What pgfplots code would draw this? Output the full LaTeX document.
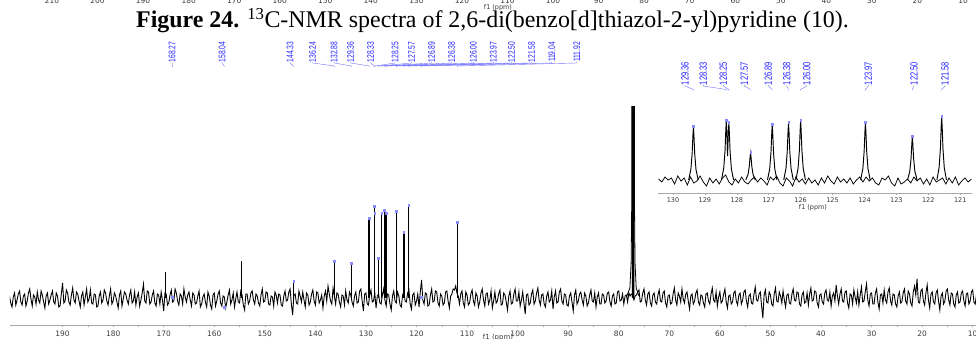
\documentclass[border=0pt]{standalone}
\usepackage{pgfplots}
\pgfplotsset{compat=1.18}
\usepackage{fontspec}
\setmainfont{Liberation Serif}
\newfontfamily\dvfont{DejaVu Sans}
\newfontfamily\labfont{Liberation Sans}
\definecolor{lblue}{HTML}{2020FF}
\definecolor{cblue}{HTML}{7070FF}
\definecolor{mblue}{HTML}{8C8CFF}
\definecolor{tickc}{HTML}{3A3A3A}
\definecolor{axc}{HTML}{A8A8A8}
\newcommand\mlab[3]{%
 \node[rotate=90, text=lblue, inner sep=0pt] at (#1bp,287bp) {\scalebox{0.7}[1]{\labfont\fontsize{9.6}{9.6}\selectfont #3}};
 \draw[cblue, line width=0.4pt] (#1bp,277bp) -- (#1bp,276bp) -- (#2bp,273bp) -- (#2bp,272bp);}
\newcommand\ilab[3]{%
 \node[rotate=90, text=lblue, inner sep=0pt] at (#1bp,265.5bp) {\scalebox{0.72}[1]{\labfont\fontsize{10.5}{10.5}\selectfont #3}};
 \draw[cblue, line width=0.4pt] (#1bp,254bp) -- (#1bp,253bp) -- (#2bp,249.5bp) -- (#2bp,248.5bp);}
\pgfplotsset{pk/.style={black, line width=0.95pt}}
\begin{document}
\begin{tikzpicture}
\begin{scope}
\clip (0,0) rectangle (976bp,339bp);
% main spectrum
\begin{axis}[scale only axis, width=972.8bp, height=218bp, at={(10bp,14bp)}, anchor=south west,
  x dir=reverse, xmin=8, xmax=200.4, ymin=-27, ymax=191,
  axis x line*=bottom, axis y line=none, ytick=\empty,
  xtick={10,20,...,190}, minor x tick num=1, tick align=outside,
  major tick length=2bp, minor tick length=1.5bp,
  tick style={axc, line width=0.5pt}, axis line style={axc, line width=0.7pt},
  /pgf/number format/assume math mode=true,
  xticklabel style={font=\dvfont\fontsize{7.5}{8}\selectfont, text=tickc},
  clip=true]
\addplot[black, line width=0.9pt] coordinates {
(202.5,3)(202.25,-3)(202,-6)(201.75,4)(201.5,8)(201.25,-2)(201,-4)(200.75,6)(200.5,2)(200.25,-5)(200,-9)(199.75,1)(199.5,5)(199.25,-7)(199,-2)(198.75,4)(198.5,7)(198.25,-4)(198,-7)(197.75,2)
(197.5,4)(197.25,-8)(197,-3)(196.75,5)(196.5,9)(196.25,-1)(196,-8)(195.75,3)(195.5,1)(195.25,-6)(195,6)(194.75,-2)(194.5,-5)(194.25,7)(194,3)(193.75,-4)(193.5,-10)(193.25,2)(193,5)(192.75,-6)
(192.5,-2)(192.25,3)(192,7)(191.75,-4)(191.5,-6)(191.25,5)(191,2)(190.75,-9)(190.5,-8)(190.25,4)(190,15)(189.75,-5)(189.5,-3)(189.25,8)(189,5)(188.75,-4)(188.5,-7)(188.25,3)(188,10)(187.75,-2)
(187.5,-5)(187.25,6)(187,4)(186.75,-3)(186.5,-9)(186.25,2)(186,6)(185.75,-7)(185.5,1)(185.25,9)(185,-4)(184.75,-1)(184.5,8)(184.25,-5)(184,-6)(183.75,4)(183.5,3)(183.25,-9)(183,-8)(182.75,2)
(182.5,6)(182.25,-5)(182,-2)(181.75,8)(181.5,5)(181.25,-3)(181,-7)(180.75,2)(180.5,9)(180.25,-6)(180,-3)(179.75,5)(179.5,2)(179.25,-4)(179,-10)(178.75,3)(178.5,7)(178.25,-8)(178,-1)(177.75,6)
(177.5,4)(177.25,-2)(177,-6)(176.75,3)(176.5,8)(176.25,-5)(176,-3)(175.75,6)(175.5,-7)(175.25,1)(175,5)(174.75,-8)(174.5,-2)(174.25,5)(174,14)(173.75,-3)(173.5,-5)(173.25,7)(173,6)(172.75,-6)
(172.5,-4)(172.25,3)(172,7)(171.75,-5)(171.5,-8)(171.25,4)(171,3)(170.75,-6)(170.5,6)(170.25,-2)(170,-13)(169.75,5)(169.5,4)(169.25,-7)(169,-5)(168.75,3)(168.5,8)(168.25,-4)(168,-3)(167.75,9)
(167.5,5)(167.25,-3)(167,-7)(166.75,4)(166.5,2)(166.25,-6)(166,9)(165.75,1)(165.5,-4)(165.25,3)(165,6)(164.75,-2)(164.5,-8)(164.25,5)(164,3)(163.75,-6)(163.5,-5)(163.25,2)(163,7)(162.75,-9)
(162.5,-6)(162.25,1)(162,4)(161.75,-4)(161.5,-9)(161.25,6)(161,2)(160.75,-7)(160.5,-11)(160.25,3)(160,5)(159.75,-8)(159.5,-3)(159.25,4)(159,7)(158.75,-5)(158.5,-8)(158.25,2)(158,1)(157.75,-10)
(157.5,-4)(157.25,3)(157,8)(156.75,-6)(156.5,-2)(156.25,5)(156,-9)(155.75,-1)(155.5,6)(155.25,-4)(155,-5)(154.75,7)(154.5,3)(154.25,-7)(154,-12)(153.75,4)(153.5,4)(153.25,-6)(153,-3)(152.75,5)
(152.5,7)(152.25,-2)(152,-6)(151.75,4)(151.5,2)(151.25,-5)(151,-8)(150.75,3)(150.5,9)(150.25,-4)(150,-3)(149.75,6)(149.5,5)(149.25,-6)(149,-7)(148.75,2)(148.5,1)(148.25,-8)(148,6)(147.75,3)
(147.5,-5)(147.25,4)(147,3)(146.75,-7)(146.5,-8)(146.25,2)(146,7)(145.75,-3)(145.5,-2)(145.25,6)(145,9)(144.75,-6)(144.5,-17)(144.25,3)(144,4)(143.75,-5)(143.5,-6)(143.25,7)(143,2)(142.75,-4)
(142.5,6)(142.25,-2)(142,-9)(141.75,5)(141.5,3)(141.25,-7)(141,-4)(140.75,4)(140.5,8)(140.25,-3)(140,-7)(139.75,6)(139.5,5)(139.25,-5)(139,-2)(138.75,3)(138.5,-10)(138.25,2)(138,7)(137.75,-3)
(137.5,12)(137.25,4)(137,-3)(136.75,-6)(136.5,10)(136.25,2)(136,-6)(135.75,5)(135.5,4)(135.25,-4)(135,-9)(134.75,3)(134.5,2)(134.25,-7)(134,7)(133.75,-2)(133.5,-5)(133.25,6)(133,3)(132.75,-4)
(132.5,-8)(132.25,2)(132,6)(131.75,-5)(131.5,-4)(131.25,7)(131,9)(130.75,-3)(130.5,-13)(130.25,4)(130,5)(129.75,-6)(129.5,-7)(129.25,3)(129,8)(128.75,-4)(128.5,-3)(128.25,5)(128,-10)(127.75,2)
(127.5,4)(127.25,-5)(127,-6)(126.75,3)(126.5,9)(126.25,-2)(126,-8)(125.75,4)(125.5,3)(125.25,-6)(125,-12)(124.75,2)(124.5,7)(124.25,-3)(124,-5)(123.75,6)(123.5,2)(123.25,-7)(123,-9)(122.75,3)
(122.5,6)(122.25,-3)(122,-4)(121.75,5)(121.5,8)(121.25,-6)(121,-11)(120.75,3)(120.5,5)(120.25,-7)(120,-3)(119.75,4)(119.5,-9)(119.25,6)(119,18)(118.75,-2)(118.5,-6)(118.25,5)(118,4)(117.75,-8)
(117.5,-7)(117.25,3)(117,9)(116.75,-4)(116.5,-3)(116.25,7)(116,6)(115.75,-5)(115.5,-8)(115.25,4)(115,2)(114.75,-7)(114.5,-5)(114.25,6)(114,7)(113.75,-3)(113.5,-10)(113.25,2)(113,4)(112.75,9)
(112.5,8)(112.25,12)(112,5)(111.75,2)(111.5,-6)(111.25,4)(111,7)(110.75,-5)(110.5,-9)(110.25,6)(110,3)(109.75,-7)(109.5,-5)(109.25,4)(109,8)(108.75,-3)(108.5,-7)(108.25,5)(108,2)(107.75,-9)
(107.5,-4)(107.25,5)(107,9)(106.75,-2)(106.5,-8)(106.25,4)(106,5)(105.75,-6)(105.5,-2)(105.25,7)(105,-10)(104.75,-3)(104.5,6)(104.25,-5)(104,-3)(103.75,4)(103.5,8)(103.25,-7)(103,-6)(102.75,5)
(102.5,3)(102.25,-4)(102,-12)(101.75,2)(101.5,7)(101.25,-6)(101,-5)(100.75,4)(100.5,9)(100.25,-3)(100,-3)(99.75,6)(99.5,-8)(99.25,-2)(99,6)(98.75,-5)(98.5,-16)(98.25,3)(98,4)(97.75,-7)
(97.5,-5)(97.25,4)(97,8)(96.75,-6)(96.5,-3)(96.25,5)(96,10)(95.75,-2)(95.5,-7)(95.25,3)(95,4)(94.75,-6)(94.5,-9)(94.25,2)(94,6)(93.75,-4)(93.5,-2)(93.25,7)(93,-11)(92.75,1)
(92.5,7)(92.25,-5)(92,-4)(91.75,6)(91.5,9)(91.25,-3)(91,-6)(90.75,4)(90.5,3)(90.25,-7)(90,-8)(89.75,2)(89.5,5)(89.25,-4)(89,-13)(88.75,3)(88.5,8)(88.25,-6)(88,-3)(87.75,4)
(87.5,6)(87.25,-2)(87,-7)(86.75,5)(86.5,2)(86.25,-8)(86,-5)(85.75,3)(85.5,8)(85.25,-3)(85,-4)(84.75,5)(84.5,-9)(84.25,1)(84,5)(83.75,-6)(83.5,-6)(83.25,4)(83,3)(82.75,-5)
(82.5,-3)(82.25,5)(82,6)(81.75,-4)(81.5,-8)(81.25,2)(81,4)(80.75,-6)(80.5,-5)(80.25,6)(80,7)(79.75,-3)(79.5,-2)(79.25,4)(79,-6)(78.75,2)(78.5,3)(78.25,-4)(78,5)(77.75,2)
(77.5,4)(77.25,3)(77,-2)(76.75,2)(76.5,3)(76.25,6)(76,8)(75.75,-4)(75.5,-3)(75.25,5)(75,9)(74.75,-2)(74.5,-7)(74.25,4)(74,6)(73.75,-5)(73.5,-8)(73.25,3)(73,5)(72.75,-4)
(72.5,-6)(72.25,3)(72,8)(71.75,-3)(71.5,-4)(71.25,5)(71,7)(70.75,-5)(70.5,-9)(70.25,2)(70,3)(69.75,-6)(69.5,-5)(69.25,4)(69,10)(68.75,-2)(68.5,-7)(68.25,5)(68,2)(67.75,-4)
(67.5,9)(67.25,-1)(67,-5)(66.75,4)(66.5,6)(66.25,-3)(66,-11)(65.75,2)(65.5,4)(65.25,-6)(65,-3)(64.75,5)(64.5,8)(64.25,-4)(64,-7)(63.75,3)(63.5,2)(63.25,-5)(63,-9)(62.75,4)
(62.5,5)(62.25,-3)(62,-6)(61.75,4)(61.5,10)(61.25,-2)(61,-4)(60.75,6)(60.5,-8)(60.25,1)(60,6)(59.75,-5)(59.5,-3)(59.25,4)(59,9)(58.75,-4)(58.5,-10)(58.25,2)(58,3)(57.75,-6)
(57.5,-4)(57.25,5)(57,7)(56.75,-3)(56.5,-7)(56.25,3)(56,5)(55.75,-6)(55.5,-2)(55.25,6)(55,8)(54.75,-3)(54.5,-9)(54.25,2)(54,4)(53.75,-5)(53.5,-6)(53.25,4)(53,11)(52.75,-2)
(52.5,-3)(52.25,4)(52,6)(51.75,-8)(51.5,-20)(51.25,3)(51,8)(50.75,-4)(50.5,-5)(50.25,6)(50,3)(49.75,-6)(49.5,-8)(49.25,4)(49,10)(48.75,-3)(48.5,-4)(48.25,6)(48,2)(47.75,-5)
(47.5,7)(47.25,-2)(47,-9)(46.75,3)(46.5,4)(46.25,-5)(46,-6)(45.75,4)(45.5,9)(45.25,-2)(45,-3)(44.75,6)(44.5,5)(44.25,-6)(44,-8)(43.75,3)(43.5,6)(43.25,-5)(43,-4)(42.75,5)
(42.5,-7)(42.25,4)(42,10)(41.75,-3)(41.5,-2)(41.25,7)(41,6)(40.75,-5)(40.5,-9)(40.25,3)(40,4)(39.75,-4)(39.5,-6)(39.25,5)(39,8)(38.75,-2)(38.5,-3)(38.25,6)(38,-8)(37.75,2)
(37.5,5)(37.25,-3)(37,13)(36.75,2)(36.5,-6)(36.25,4)(36,9)(35.75,-3)(35.5,-4)(35.25,6)(35,7)(34.75,-5)(34.5,-10)(34.25,4)(34,3)(33.75,-6)(33.5,8)(33.25,1)(33,-5)(32.75,6)
(32.5,-7)(32.25,3)(32,11)(31.75,-4)(31.5,-3)(31.25,6)(31,14)(30.75,-2)(30.5,-8)(30.25,4)(30,5)(29.75,-6)(29.5,-6)(29.25,5)(29,9)(28.75,-4)(28.5,-11)(28.25,3)(28,4)(27.75,-5)
(27.5,8)(27.25,-2)(27,-5)(26.75,6)(26.5,10)(26.25,-3)(26,-7)(25.75,4)(25.5,3)(25.25,-6)(25,-9)(24.75,2)(24.5,6)(24.25,-5)(24,-4)(23.75,5)(23.5,9)(23.25,-3)(23,-6)(22.75,7)
(22.5,4)(22.25,-5)(22,-8)(21.75,6)(21.5,12)(21.25,3)(21,19)(20.75,-4)(20.5,-5)(20.25,7)(20,9)(19.75,-3)(19.5,-7)(19.25,5)(19,13)(18.75,-2)(18.5,-10)(18.25,4)(18,6)(17.75,-4)
(17.5,-6)(17.25,5)(17,8)(16.75,-3)(16.5,-12)(16.25,2)(16,5)(15.75,-6)(15.5,-3)(15.25,7)(15,9)(14.75,-2)(14.5,-7)(14.25,5)(14,4)(13.75,-6)(13.5,-9)(13.25,3)(13,6)(12.75,-5)
(12.5,-4)(12.25,5)(12,7)(11.75,-3)(11.5,-8)(11.25,4)(11,5)(10.75,-6)(10.5,-3)(10.25,6)(10,8)(9.75,-4)(9.5,-6)(9.25,3)(9,4)(8.75,-5)(8.5,-5)(8.25,4)(8,3)};
% peaks
\addplot[black, line width=1.4pt, ycomb] coordinates {
(169.6,26)(154.6,37)(144.33,17)(136.24,37)(132.88,35)(129.36,80)(128.33,92)(128.25,85)
(127.57,40)(126.89,85)(126.38,88)(126.00,85)(123.97,87)(122.50,66)(121.58,93)(111.92,76)};
% CDCl3
\addplot[black, fill=black, draw=none] coordinates {(77.42,85)(77.42,300)(76.9,300)(76.9,85)} \closedcycle;
\addplot[black, line width=0.8pt] coordinates {(78.4,2)(77.8,10)(77.55,35)(77.45,85)(77.38,300)
 (76.95,300)(76.87,85)(76.78,35)(76.55,10)(76.0,2)};
\addplot[mblue, only marks, mark=square*, mark size=0.75bp] coordinates {
(168.27,1)(158.04,-9)(144.33,17)(136.24,37)(132.88,35)(129.36,80)(128.33,92)(128.25,85)
(127.57,40)(126.89,85)(126.38,88)(126.00,85)(123.97,87)(122.50,66)(121.58,93)(119.04,1)(111.92,76)};
\end{axis}
% inset
\begin{axis}[scale only axis, width=314bp, height=83bp, at={(658bp,146bp)}, anchor=south west,
  x dir=reverse, xmin=120.63, xmax=130.47, ymin=-13, ymax=70,
  axis x line*=bottom, axis y line=none, ytick=\empty,
  xtick={121,122,...,130}, minor x tick num=1, tick align=outside,
  major tick length=2bp, minor tick length=1.5bp,
  tick style={axc, line width=0.5pt}, axis line style={axc, line width=0.7pt},
  /pgf/number format/assume math mode=true,
  xticklabel style={font=\dvfont\fontsize{6.5}{7}\selectfont, text=tickc, yshift=1bp},
  clip=true]
\addplot[black, line width=0.75pt] coordinates {
(130.45,1)(130.35,-2)(130.25,3)(130.15,0)(130.05,2)(129.95,-4)(129.85,4)(129.75,-1)(129.65,2)(129.55,-5)
(129.45,3)(129.35,-3)(129.25,-1)(129.15,4)(129.05,-2)(128.95,-6)(128.85,2)(128.75,-3)(128.65,1)(128.55,-4)
(128.45,2)(128.35,5)(128.25,-2)(128.15,-5)(128.05,1)(127.95,-3)(127.85,3)(127.75,-2)(127.65,-4)(127.55,0)
(127.45,3)(127.35,-2)(127.25,2)(127.15,-1)(127.05,-5)(126.95,3)(126.85,0)(126.75,4)(126.65,-3)(126.55,-6)
(126.45,2)(126.35,-1)(126.25,-6)(126.15,3)(126.05,-2)(125.95,1)(125.85,-4)(125.75,2)(125.65,-3)(125.55,0)
(125.45,-5)(125.35,2)(125.25,-3)(125.15,4)(125.05,-1)(124.95,-4)(124.85,3)(124.75,-2)(124.65,1)(124.55,-3)
(124.45,2)(124.35,-4)(124.25,0)(124.15,3)(124.05,-2)(123.95,3)(123.85,-1)(123.75,2)(123.65,-3)(123.55,-5)
(123.45,2)(123.35,0)(123.25,4)(123.15,-3)(123.05,-6)(122.95,2)(122.85,-4)(122.75,-2)(122.65,1)(122.55,-3)
(122.45,3)(122.35,-1)(122.25,2)(122.15,-4)(122.05,1)(121.95,-5)(121.85,3)(121.75,-2)(121.65,0)(121.55,2)
(121.45,-4)(121.35,2)(121.25,-3)(121.15,3)(121.05,-5)(120.95,-1)(120.85,2)(120.75,-2)(120.65,1)};
\addplot[pk] coordinates {(129.51,0)(129.44,10.6)(129.40,26.5)(129.375,45)(129.36,53)(129.345,45)(129.32,26.5)(129.28,10.6)(129.21,0)};
\addplot[pk] coordinates {(128.48,0)(128.41,12)(128.37,29)(128.345,50)(128.33,59)(128.315,50)(128.29,24)(128.265,48)(128.25,57)(128.235,48)(128.21,28)(128.17,11)(128.10,0)};
\addplot[pk] coordinates {(127.72,0)(127.65,5.4)(127.61,13.5)(127.585,23)(127.57,27)(127.555,23)(127.53,13.5)(127.49,5.4)(127.42,0)};
\addplot[pk] coordinates {(127.04,0)(126.97,11)(126.93,27.5)(126.905,47)(126.89,55)(126.875,47)(126.85,27.5)(126.81,11)(126.74,0)};
\addplot[pk] coordinates {(126.53,0)(126.46,11.4)(126.42,28.5)(126.395,48.5)(126.38,57)(126.365,48.5)(126.34,28.5)(126.30,11.4)(126.23,0)};
\addplot[pk] coordinates {(126.15,0)(126.08,11.8)(126.04,29.5)(126.015,50)(126.00,59)(125.985,50)(125.96,29.5)(125.92,11.8)(125.85,0)};
\addplot[pk] coordinates {(124.12,0)(124.05,11.4)(124.01,28.5)(123.985,48.5)(123.97,57)(123.955,48.5)(123.93,28.5)(123.89,11.4)(123.82,0)};
\addplot[pk] coordinates {(122.65,0)(122.58,8.6)(122.54,21.5)(122.515,36.5)(122.50,43)(122.485,36.5)(122.46,21.5)(122.42,8.6)(122.35,0)};
\addplot[pk] coordinates {(121.73,0)(121.66,12.6)(121.62,31.5)(121.595,53.5)(121.58,63)(121.565,53.5)(121.54,31.5)(121.50,12.6)(121.43,0)};
\addplot[mblue, only marks, mark=square*, mark size=0.8bp] coordinates {
(129.36,54)(128.33,60)(128.25,58)(127.57,28)(126.89,56)(126.38,58)(126.00,60)(123.97,58)(122.50,44)(121.58,64)};
\end{axis}
% axis titles
\node[anchor=base, font=\dvfont\fontsize{7}{8}\selectfont, text=tickc] at (498bp,-0.5bp) {f1 (ppm)};
\node[anchor=base, font=\dvfont\fontsize{6.5}{7}\selectfont, text=tickc] at (813bp,129.5bp) {f1 (ppm)};
% previous figure's axis (cut off at top)
\foreach \v in {10,20,...,210} {
  \pgfmathsetmacro\xx{52+(210-\v)*4.555}
  \node[anchor=base, font=\dvfont\fontsize{7.5}{8}\selectfont, text=tickc, inner sep=0pt] at (\xx bp,335bp) {\v};}
\node[anchor=base, font=\dvfont\fontsize{6.5}{7}\selectfont, text=tickc, inner sep=0pt] at (498bp,329.5bp) {f1 (ppm)};
% caption
\node[anchor=base, inner sep=0pt] at (492.5bp,311bp) {\fontsize{24}{28}\selectfont\textbf{Figure 24.} \textsuperscript{13}C-NMR spectra of 2,6-di(benzo[d]thiazol-2-yl)pyridine (10).};
% main peak labels
\mlab{172}{172.4}{168.27}
\mlab{222}{224.2}{158.04}
\mlab{290}{293.5}{144.33}
\mlab{312.7}{334.4}{136.24}
\mlab{334}{351.4}{132.88}
\mlab{350.7}{369.2}{129.36}
\mlab{370.7}{374.4}{128.33}
\mlab{395}{374.8}{128.25}
\mlab{411.7}{378.2}{127.57}
\mlab{431.7}{381.7}{126.89}
\mlab{451.7}{384.2}{126.38}
\mlab{473.3}{386.2}{126.00}
\mlab{493.3}{396.4}{123.97}
\mlab{511.7}{403.9}{122.50}
\mlab{531.7}{408.5}{121.58}
\mlab{551.7}{421.4}{119.04}
\mlab{576.7}{457.4}{111.92}
% inset labels
\ilab{685}{693.4}{129.36}
\ilab{703.3}{726.3}{128.33}
\ilab{723.3}{728.8}{128.25}
\ilab{744.3}{750.5}{127.57}
\ilab{768.3}{772.2}{126.89}
\ilab{786.7}{788.5}{126.38}
\ilab{806.7}{800.6}{126.00}
\ilab{868.3}{865.4}{123.97}
\ilab{914}{912.2}{122.50}
\ilab{945}{941.6}{121.58}
\end{scope}
\pgfresetboundingbox
\path[use as bounding box] (0,0) rectangle (976bp,339bp);
\end{tikzpicture}
\end{document}
